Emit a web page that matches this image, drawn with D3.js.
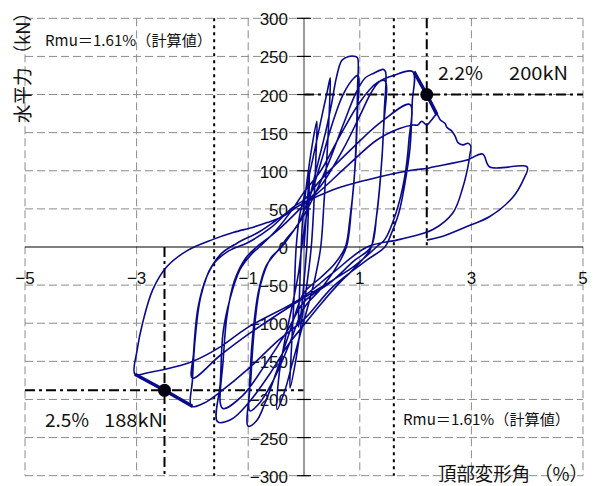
<!DOCTYPE html>
<html>
<head>
<meta charset="utf-8">
<script src="https://cdn.jsdelivr.net/npm/d3@7"></script>
<style>
  body { margin: 0; background: #fff; }
  svg { display: block; }
</style>
</head>
<body>
<svg id="chart" width="596" height="486"></svg>
<script>
// 目盛り
const xTicks = [-5, -3, -1, 1, 3, 5];
const yTicks = [-300, -250, -200, -150, -100, -50, 0, 50, 100, 150, 200, 250, 300];

// 荷重-変形角の履歴 [変形角(%), 水平力(kN)] 振幅ごと
const cycle010 = [[0, 0], [0.04, 40], [0.08, 80], [0.1, 95], [0.08, 50], [0.05, 0], [0.0, -45], [-0.06, -90], [-0.1, -105], [-0.08, -60], [-0.05, 0]];
const cycle025 = [[-0.02, 40], [0.06, 90], [0.15, 135], [0.23, 165], [0.22, 130], [0.18, 60], [0.13, 0], [0.05, -50], [-0.05, -100], [-0.15, -150], [-0.25, -185], [-0.23, -140], [-0.18, -70], [-0.14, 0]];
const cycle050 = [[-0.08, 40], [0.05, 80], [0.2, 130], [0.33, 175], [0.42, 205], [0.47, 222], [0.46, 190], [0.42, 130], [0.36, 60], [0.3, 0], [0.2, -40], [0.08, -75], [-0.05, -110], [-0.2, -150], [-0.35, -190], [-0.48, -213], [-0.45, -170], [-0.35, -125], [-0.22, -80], [-0.1, -35], [-0.04, 0]];
const cycle100 = [[0.02, 30], [0.12, 70], [0.25, 110], [0.4, 155], [0.5, 190], [0.58, 222], [0.68, 245], [0.8, 250], [0.92, 250], [0.96, 248], [0.96, 210], [0.94, 150], [0.9, 90], [0.82, 35], [0.74, 0], [0.55, -22], [0.3, -40], [0.0, -60], [-0.25, -110], [-0.5, -165], [-0.7, -205], [-0.85, -228], [-1.0, -235], [-0.98, -190], [-0.93, -125], [-0.82, -60], [-0.68, -25], [-0.45, -3]];
const cycle100b = [[-0.3, 12], [-0.1, 30], [0.0, 48], [0.15, 75], [0.3, 110], [0.5, 160], [0.7, 200], [0.9, 222], [0.97, 225], [0.96, 180], [0.92, 110], [0.85, 50], [0.76, 0], [0.55, -30], [0.3, -55], [0.0, -80], [-0.25, -125], [-0.55, -175], [-0.8, -205], [-0.97, -215], [-0.95, -170], [-0.88, -100], [-0.78, -50], [-0.6, -15], [-0.4, 0]];
const cycle150 = [[-0.2, 20], [0, 42], [0.2, 70], [0.45, 112], [0.7, 160], [0.95, 205], [1.1, 222], [1.25, 228], [1.42, 233], [1.46, 230], [1.44, 180], [1.4, 120], [1.33, 60], [1.25, 15], [1.19, -3], [0.9, -28], [0.6, -50], [0.3, -75], [0.0, -102], [-0.3, -130], [-0.6, -165], [-1.0, -205], [-1.3, -226], [-1.55, -229], [-1.5, -178], [-1.45, -112], [-1.33, -69], [-1.15, -30], [-0.95, -10], [-0.8, 0]];
const cycle150b = [[-0.5, 22], [-0.2, 50], [0.0, 72], [0.3, 100], [0.6, 140], [1.0, 190], [1.3, 215], [1.45, 218], [1.43, 160], [1.37, 90], [1.3, 40], [1.2, 0], [0.9, -18], [0.5, -45], [0.0, -72], [-0.3, -110], [-0.7, -155], [-1.1, -195], [-1.45, -212], [-1.5, -205], [-1.45, -150], [-1.38, -90], [-1.25, -45], [-1.05, -15], [-0.85, 0]];
const cycle200 = [[-0.5, 20], [-0.1, 48], [0.3, 80], [0.7, 128], [1.0, 172], [1.2, 202], [1.35, 217], [1.6, 225], [1.95, 230], [1.94, 190], [1.9, 130], [1.8, 80], [1.7, 45], [1.55, 15], [1.45, 0], [1.13, -17], [0.52, -52], [0.0, -95], [-0.5, -125], [-1.0, -160], [-1.5, -190], [-1.8, -205], [-2.02, -209], [-2.0, -175], [-1.95, -120], [-1.85, -65], [-1.65, -25], [-1.35, -5], [-1.0, 6]];
const cycle200b = [[-0.6, 25], [-0.2, 52], [0.0, 62], [0.3, 88], [0.9, 132], [1.4, 165], [1.9, 187], [1.88, 140], [1.8, 90], [1.65, 45], [1.45, 10], [1.3, 0], [0.9, -25], [0.1, -62], [-0.25, -78], [-0.97, -113], [-1.5, -142], [-2.0, -172], [-1.98, -140], [-1.9, -80], [-1.75, -40], [-1.5, -10], [-1.2, 5]];
const cycle300 = [[-0.8, 20], [-0.3, 45], [0.0, 58], [0.2, 68], [0.8, 108], [1.3, 140], [1.7, 155], [1.95, 160], [2.04, 160], [2.11, 165], [2.2, 160], [2.29, 167], [2.38, 174], [2.44, 167], [2.53, 162], [2.56, 157], [2.65, 152], [2.71, 145], [2.76, 137], [2.85, 134], [2.94, 136], [2.99, 132], [2.97, 120], [2.94, 106], [2.85, 79], [2.67, 45], [2.31, 23], [1.72, 10], [1.13, 0], [0.5, -35], [-0.07, -68], [-1.02, -106], [-1.5, -131], [-1.99, -150], [-2.2, -155], [-2.8, -165], [-3.03, -167], [-2.99, -135], [-2.89, -99], [-2.71, -56], [-2.46, -26], [-2.1, -5], [-1.63, 10], [-1.27, 19], [-0.91, 26], [-0.66, 32], [-0.38, 40], [-0.07, 55]];
const cycle400 = [[0.52, 75], [1.13, 88], [1.95, 101], [2.2, 103], [2.31, 105], [2.92, 114], [3.2, 122], [3.33, 105], [4.0, 105], [3.93, 88], [3.75, 66], [3.33, 40], [2.92, 27], [2.44, 13], [2.2, 9]];

// 包絡線の劣化区間と読み取り点
const envelopePos = [[1.97, 230], [2.2, 200], [2.38, 174]];
const envelopeNeg = [[-3.03, -167], [-2.5, -188], [-2.0, -209]];
const peakPos = [2.2, 200];
const peakNeg = [-2.5, -188];
const rmu = 1.61;

const hysteresis = [].concat(cycle010, cycle025, cycle050, cycle100, cycle100b,
  cycle150, cycle150b, cycle200, cycle200b, cycle300, cycle400);

const svg = d3.select('#chart');
const x = d3.scaleLinear().domain([-5, 5]).range([25, 583]);
const y = d3.scaleLinear().domain([-300, 300]).range([475.7, 18.3]);

const fmt = v => (v < 0 ? '\u2212' + Math.abs(v) : String(v));
const jp = '"Noto Sans CJK JP", "Noto Sans", sans-serif';
const num = '"Liberation Sans", Arial, sans-serif';

// グリッド
const grid = svg.append('g').attr('stroke', '#8c8c8c').attr('stroke-width', 1).attr('stroke-dasharray', '8,4');
grid.selectAll('.gx').data(xTicks).enter().append('line')
  .attr('x1', d => x(d)).attr('x2', d => x(d)).attr('y1', y(300)).attr('y2', y(-300));
grid.selectAll('.gy').data(yTicks.filter(d => d !== 0)).enter().append('line')
  .attr('x1', x(-5)).attr('x2', x(5)).attr('y1', d => y(d)).attr('y2', d => y(d));

// 計算値 Rmu（点線）
svg.selectAll('.rmu').data([-rmu, rmu]).enter().append('line')
  .attr('x1', d => x(d)).attr('x2', d => x(d)).attr('y1', y(300)).attr('y2', y(-300))
  .attr('stroke', '#000').attr('stroke-width', 2).attr('stroke-dasharray', '3,4');

// 読み取り線（一点鎖線）
const dashDot = '10,4,3,4';
const refLines = [
  [peakPos[0], 300, peakPos[0], 0],
  [0, peakPos[1], 5, peakPos[1]],
  [peakNeg[0], 0, peakNeg[0], -300],
  [-5, peakNeg[1], 0, peakNeg[1]]
];
svg.selectAll('.ref').data(refLines).enter().append('line')
  .attr('x1', d => x(d[0])).attr('y1', d => y(d[1])).attr('x2', d => x(d[2])).attr('y2', d => y(d[3]))
  .attr('stroke', '#000').attr('stroke-width', 2).attr('stroke-dasharray', dashDot);

// 軸
svg.append('line').attr('x1', x(-5)).attr('x2', x(5)).attr('y1', y(0)).attr('y2', y(0))
  .attr('stroke', '#000').attr('stroke-width', 1.2);
svg.append('line').attr('x1', x(0)).attr('x2', x(0)).attr('y1', y(300)).attr('y2', y(-300))
  .attr('stroke', '#7a7a7a').attr('stroke-width', 1.5);
svg.selectAll('.yt').data(yTicks).enter().append('line')
  .attr('x1', x(0) - 7).attr('x2', x(0) + 7).attr('y1', d => y(d)).attr('y2', d => y(d))
  .attr('stroke', '#000').attr('stroke-width', 1.2);

// 目盛りラベル
svg.selectAll('.yl').data(yTicks).enter().append('text')
  .attr('x', x(0) - 16).attr('y', d => y(d) + 7)
  .attr('text-anchor', 'end').attr('font-family', num).attr('font-size', 17).attr('fill', '#111')
  .text(fmt);
svg.selectAll('.xl').data(xTicks).enter().append('text')
  .attr('x', d => x(d)).attr('y', 284)
  .attr('text-anchor', 'middle').attr('font-family', num).attr('font-size', 17).attr('fill', '#111')
  .text(fmt);

// 履歴曲線
const line = d3.line().x(d => x(d[0])).y(d => y(d[1])).curve(d3.curveCatmullRom.alpha(0.5));
svg.append('path').datum(hysteresis).attr('d', line)
  .attr('fill', 'none').attr('stroke', '#0a0a8c').attr('stroke-width', 1.6).attr('stroke-linejoin', 'round');

const straight = d3.line().x(d => x(d[0])).y(d => y(d[1]));
svg.selectAll('.env').data([envelopePos, envelopeNeg]).enter().append('path')
  .attr('d', straight).attr('fill', 'none').attr('stroke', '#0a0a8c').attr('stroke-width', 3.5);

svg.selectAll('.pk').data([peakPos, peakNeg]).enter().append('circle')
  .attr('cx', d => x(d[0])).attr('cy', d => y(d[1])).attr('r', 6.5).attr('fill', '#000010');

// 注記
const note = (tx, ty, str, size, len) => {
  const t = svg.append('text').attr('x', tx).attr('y', ty)
    .attr('font-family', jp).attr('font-size', size).attr('fill', '#111').text(str);
  if (len) t.attr('textLength', len).attr('lengthAdjust', 'spacingAndGlyphs');
  return t;
};
note(45, 46, 'Rmu＝1.61%（計算値）', 15, 167);
note(403, 425, 'Rmu＝1.61%（計算値）', 15, 167);
note(438, 80, '2.2%', 18, 45);
note(509, 80, '200kN', 18, 59);
note(45, 427, '2.5%', 18, 44);
note(104, 427, '188kN', 18, 59);

// 軸タイトル
svg.append('text').attr('transform', 'translate(30,63) rotate(-90)')
  .attr('text-anchor', 'middle').attr('font-family', jp).attr('font-size', 19).attr('fill', '#111')
  .attr('textLength', 120).attr('lengthAdjust', 'spacingAndGlyphs')
  .text('水平力 （kN）');
svg.append('text').attr('x', 438).attr('y', 481)
  .attr('font-family', jp).attr('font-size', 19).attr('fill', '#111')
  .attr('textLength', 150).attr('lengthAdjust', 'spacingAndGlyphs')
  .text('頂部変形角 （%）');
</script>
</body>
</html>
